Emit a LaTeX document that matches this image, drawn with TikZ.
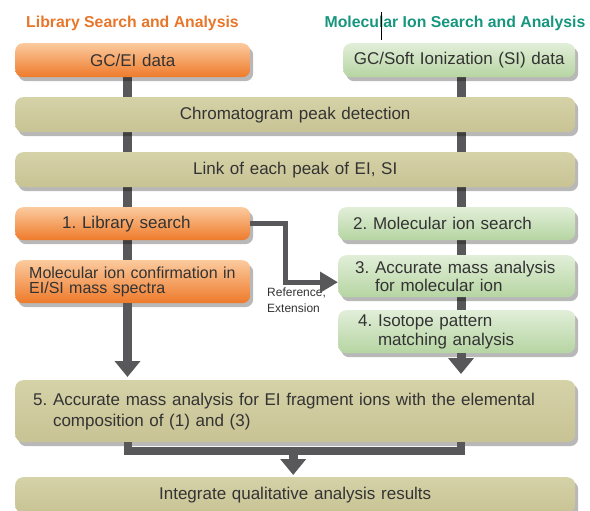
\documentclass[tikz,border=0pt]{standalone}
\usepackage{fontspec}
\setmainfont{Liberation Sans}
\usetikzlibrary{arrows.meta,shadows,calc,backgrounds}
\frenchspacing

\definecolor{orTop}{HTML}{FBCA9E}
\definecolor{orBot}{HTML}{EE7A2A}
\definecolor{grTop}{HTML}{E1EED8}
\definecolor{grBot}{HTML}{B6D5A2}
\definecolor{olTop}{HTML}{D5D2A8}
\definecolor{olBot}{HTML}{C8C394}
\definecolor{connGray}{HTML}{58585A}
\definecolor{txtGray}{HTML}{333333}
\definecolor{ttlOrange}{HTML}{E8762A}
\definecolor{ttlTeal}{HTML}{17967E}

\tikzset{
  box/.style={rounded corners=8pt, draw=none, text=txtGray, anchor=north west,
    inner ysep=0pt, font=\fontsize{17}{19}\selectfont,
    drop shadow={shadow xshift=3pt, shadow yshift=-4pt, fill=black, opacity=0.28}},
  orbox/.style={box, top color=orTop, bottom color=orBot},
  grbox/.style={box, top color=grTop, bottom color=grBot},
  olbox/.style={box, top color=olTop, bottom color=olBot},
  link/.style={draw=connGray, line width=9pt},
  flowarrow/.style={link, -{Triangle[width=25pt,length=16pt]}},
  refarrow/.style={draw=connGray, line width=5pt, line join=miter,
    -{Triangle[width=20pt,length=18pt]}},
  heading/.style={font=\bfseries\fontsize{15.8}{18}\selectfont},
}

\begin{document}
\begin{tikzpicture}[x=1pt,y=-1pt]
\useasboundingbox (0,0) rectangle (590,511);

% column headings
\node[heading, text=ttlOrange] (ttlL) at (132.5,23) {Library Search and Analysis};
\node[heading, text=ttlTeal] (ttlR) at (455,23) {Molecular Ion Search and Analysis};
\draw[line width=0.9pt, black] (381.7,12) -- (381.7,40);

% connector columns
\coordinate (colL) at (127.5,0);
\coordinate (colR) at (461,0);

% boxes
\node[orbox, minimum height=34pt, inner xsep=8pt, text width=219pt, align=center]
  (gcei) at (15,43) {GC/EI data};
\node[grbox, minimum height=34pt, inner xsep=8pt, text width=216pt, align=center]
  (gcsi) at (343,43) {GC/Soft Ionization (SI) data};
\node[olbox, minimum height=35pt, inner xsep=8pt, text width=544pt, align=center]
  (chrom) at (15,97) {Chromatogram peak detection};
\node[olbox, minimum height=35pt, inner xsep=8pt, text width=544pt, align=center]
  (peaks) at (15,152) {Link of each peak of EI, SI};
\node[orbox, minimum height=33pt, inner xsep=47pt, text width=141pt, align=left]
  (lib) at (15,207) {\mbox{1. Library search}};
\node[orbox, minimum height=43pt, inner xsep=14pt, text width=207pt, align=left,
  font=\fontsize{16}{15.5}\selectfont]
  (conf) at (15,260) {\mbox{Molecular ion confirmation in}\\\mbox{EI/SI mass spectra}};
\node[grbox, minimum height=33pt, inner xsep=15pt, text width=207pt, align=left]
  (mis) at (338,207) {\mbox{2. Molecular ion search}};
\node[grbox, minimum height=42pt, inner xsep=17pt, text width=203pt, align=left,
  font=\fontsize{17}{18}\selectfont]
  (acc) at (338,255) {\mbox{3. Accurate mass analysis}\\\mbox{\hphantom{3.\ }for molecular ion}};
\node[grbox, minimum height=43pt, inner xsep=20pt, text width=197pt, align=left]
  (iso) at (338,310) {\mbox{4. Isotope pattern}\\\mbox{\hphantom{4.\ }matching analysis}};
\node[olbox, minimum height=62pt, inner xsep=18pt, text width=524pt, align=left,
  font=\fontsize{17}{21}\selectfont]
  (five) at (15,380) {\mbox{5. Accurate mass analysis for EI fragment ions with the elemental}\\
  \mbox{\hphantom{5.\ }composition of (1) and (3)}};
\node[olbox, minimum height=36pt, inner xsep=8pt, text width=544pt, align=center]
  (integ) at (15,477) {Integrate qualitative analysis results};

% reference label
\node[anchor=north west, inner sep=0pt, align=left, text=txtGray,
  font=\fontsize{12}{16}\selectfont] (reflbl) at (267,288) {Reference,\\Extension};

% connectors
\begin{scope}[on background layer]
  \draw[link] (gcei.south -| colL) -- (chrom.north -| colL);
  \draw[link] (chrom.south -| colL) -- (peaks.north -| colL);
  \draw[link] (peaks.south -| colL) -- (lib.north -| colL);
  \draw[link] (lib.south -| colL) -- (conf.north -| colL);
  \draw[link] (gcsi.south -| colR) -- (chrom.north -| colR);
  \draw[link] (chrom.south -| colR) -- (peaks.north -| colR);
  \draw[link] (peaks.south -| colR) -- (mis.north -| colR);
  \draw[link] (mis.south -| colR) -- (acc.north -| colR);
  \draw[link] (acc.south -| colR) -- (iso.north -| colR);
\end{scope}

\draw[flowarrow, shorten >=3pt] (conf.south -| colL) -- (five.north -| colL);
\draw[flowarrow, shorten >=6pt] (iso.south -| colR) -- (five.north -| colR);

\coordinate (brk) at ($(five.south)+(-2,9)$);
\draw[draw=connGray, line width=8pt, line join=miter]
  (five.south -| colL) -- (brk -| colL) -- (brk -| colR) -- (five.south -| colR);
\draw[flowarrow, shorten >=2pt] ($(brk)+(0,-4)$) -- (integ.north -| brk);

\draw[refarrow] (lib.east) -| ($(acc.west)+(-53,6)$) -- ($(acc.west)+(0,6)$);
\end{tikzpicture}
\end{document}
